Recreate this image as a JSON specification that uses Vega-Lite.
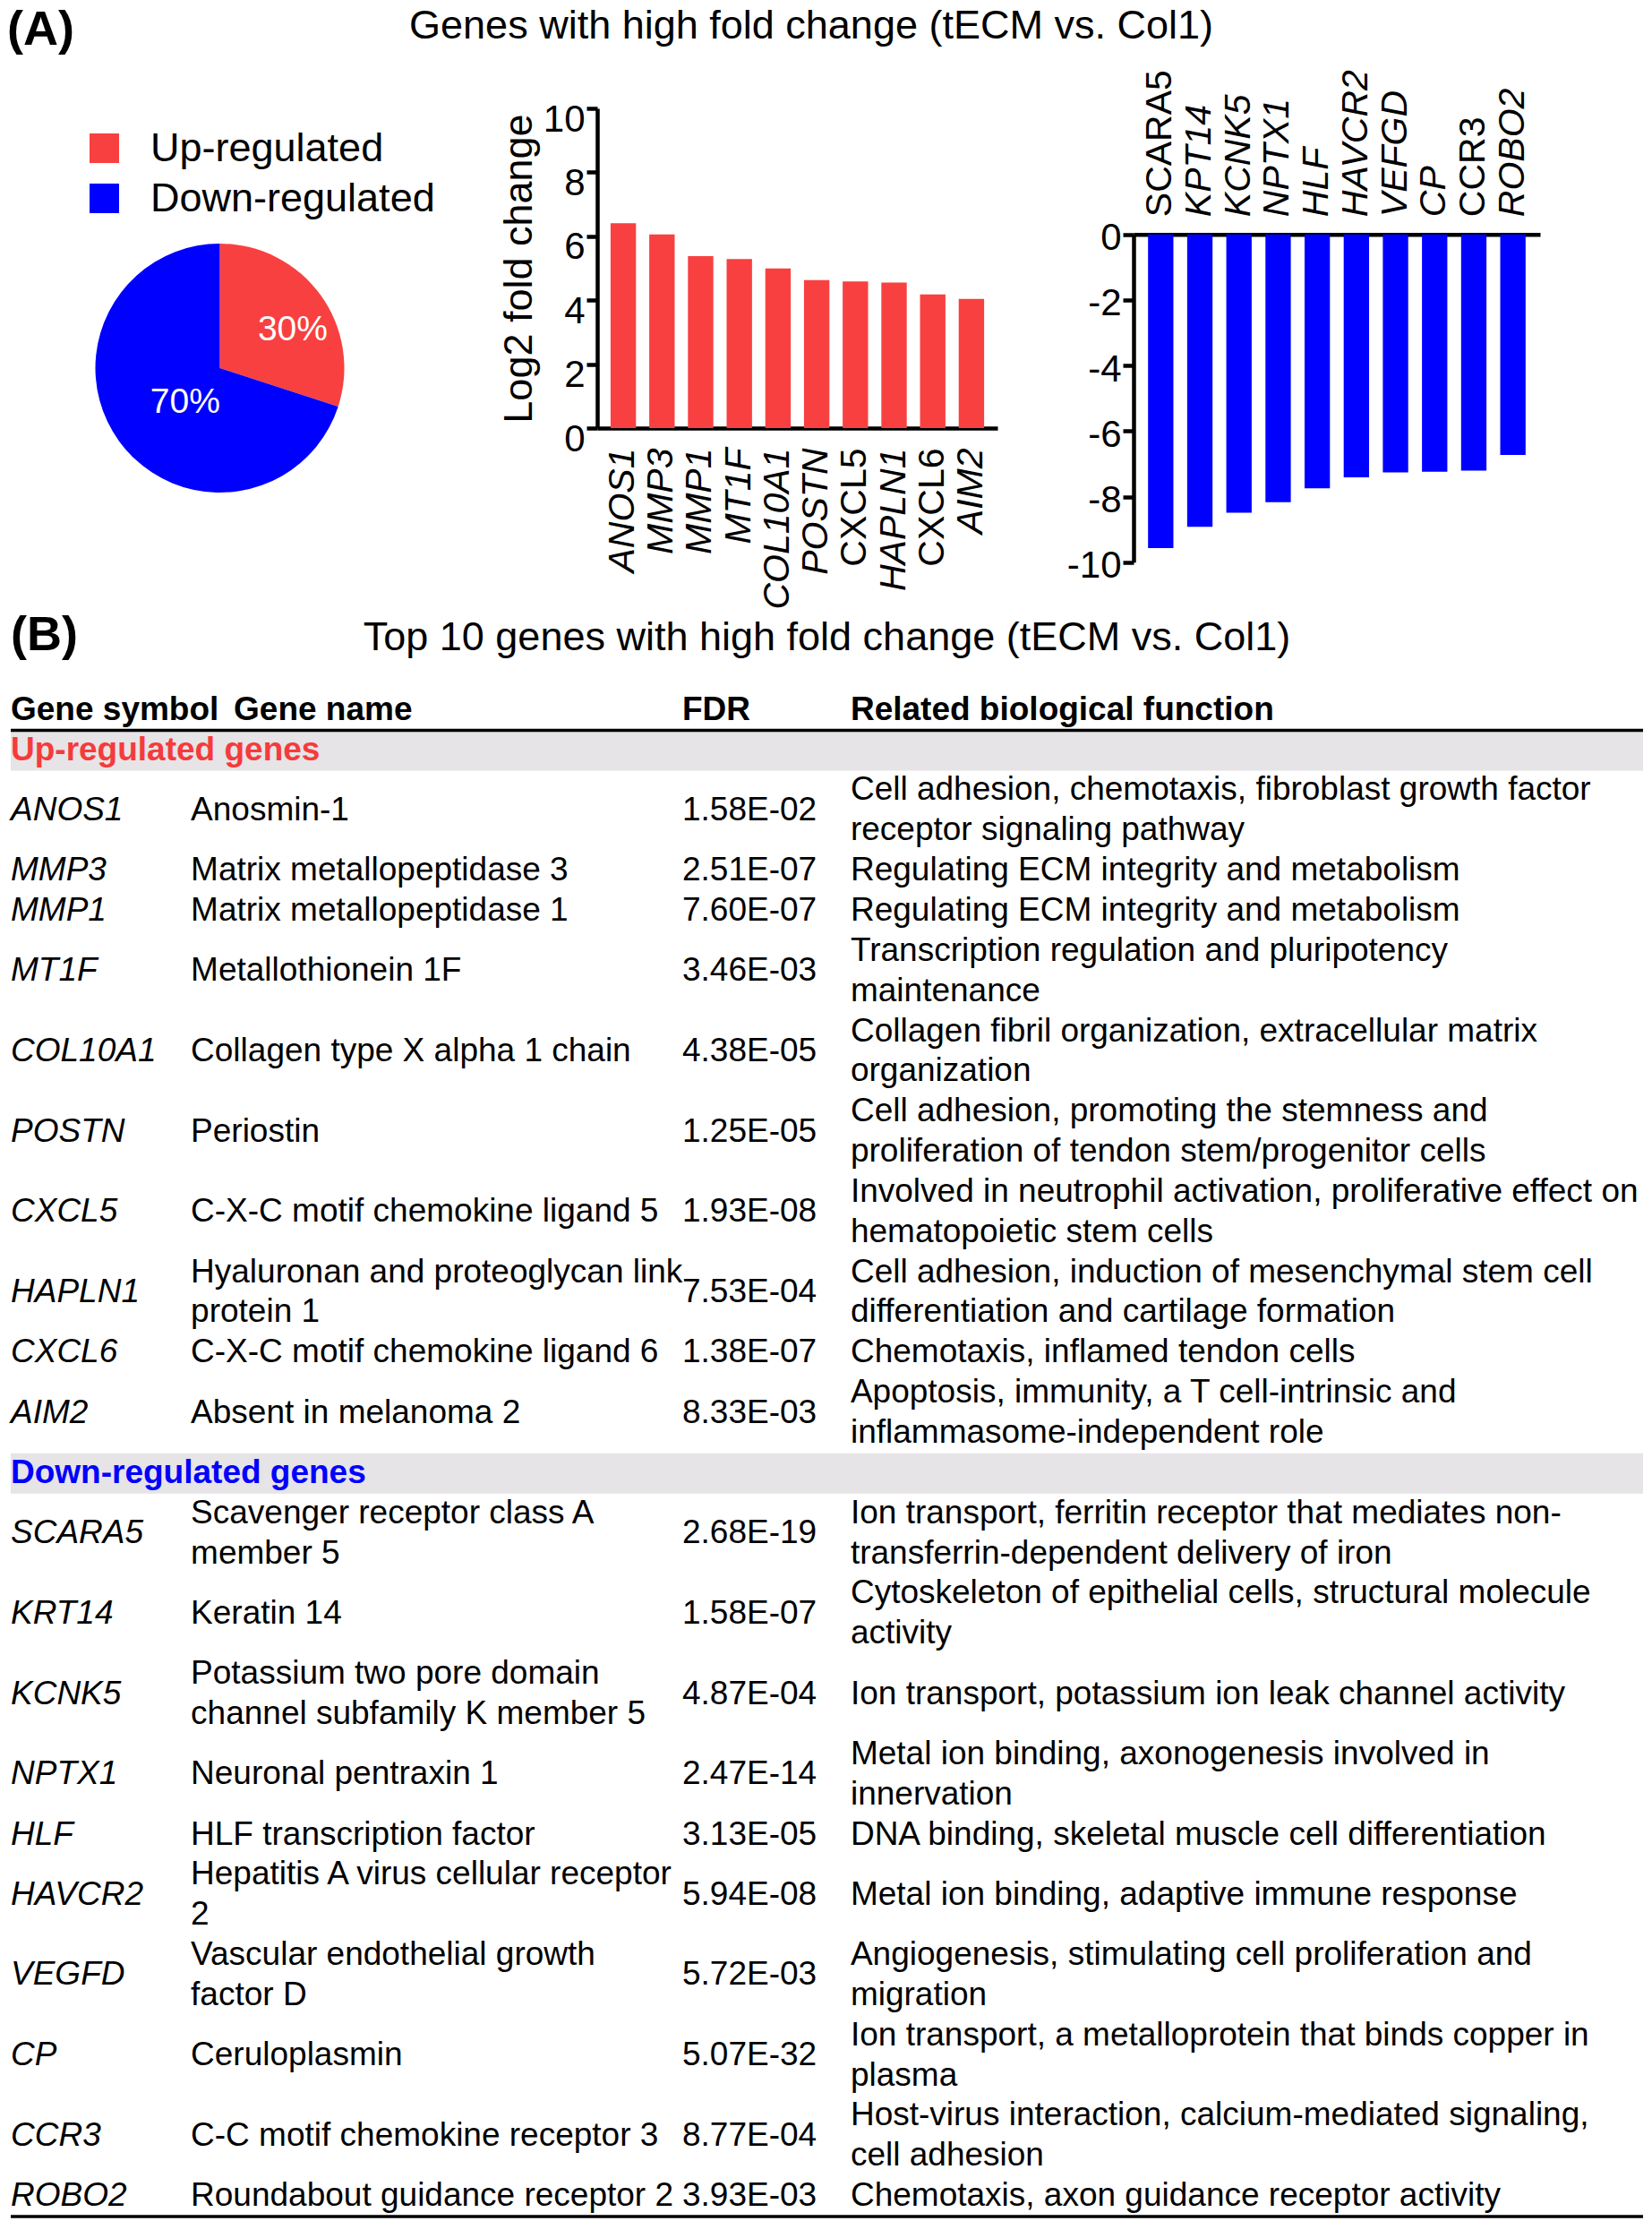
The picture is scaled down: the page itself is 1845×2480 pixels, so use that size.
{
  "$schema": "https://vega.github.io/schema/vega-lite/v6.json",
  "autosize": {"type": "pad"},
  "padding": {"left": 0, "top": 7, "right": 0, "bottom": 0},
  "background": "white",
  "config": {
    "font": "Liberation Sans",
    "view": {"stroke": null},
    "axis": {"grid": false, "domainColor": "black", "tickColor": "black", "labelColor": "black", "titleColor": "black", "labelFont": "Liberation Sans", "titleFont": "Liberation Sans"},
    "legend": {"labelFont": "Liberation Sans"},
    "title": {"font": "Liberation Sans", "color": "black"}
  },
  "spacing": 0,
  "vconcat": [
    {
      "spacing": 152,
      "bounds": "flush",
      "hconcat": [
        {
          "width": 491,
          "height": 559.3,
          "title": {"text": "(A)", "anchor": "start", "frame": "group", "fontSize": 54, "fontWeight": "bold", "baseline": "alphabetic", "offset": 17, "dx": 8},
          "data": {"values": [
            {"reg": "Up-regulated", "pct": 30, "label": "30%"},
            {"reg": "Down-regulated", "pct": 70, "label": "70%"}
          ]},
          "encoding": {
            "theta": {"field": "pct", "type": "quantitative", "stack": true},
            "order": {"field": "pct", "type": "quantitative", "sort": "ascending"}
          },
          "layer": [
            {
              "mark": {"type": "arc", "outerRadius": 139, "yOffset": 10.35},
              "encoding": {
                "color": {"field": "reg", "type": "nominal",
                  "scale": {"domain": ["Up-regulated", "Down-regulated"], "range": ["#f94040", "#0000fe"]},
                  "legend": {"orient": "none", "legendX": 94, "legendY": 22, "title": null, "symbolType": "square", "symbolSize": 1089, "symbolStrokeWidth": 0, "symbolOpacity": 1, "labelFontSize": 45, "labelColor": "black", "labelOffset": 29, "labelBaseline": "middle", "rowPadding": 10, "padding": 0, "labelLimit": 600}
                }
              }
            },
            {
              "mark": {"type": "text", "radius": 92, "yOffset": 10.35, "dx": 7, "dy": 11, "fontSize": 39, "color": "white"},
              "encoding": {"text": {"condition": {"test": "datum.reg == 'Up-regulated'", "field": "label"}, "value": ""}}
            },
            {
              "mark": {"type": "text", "radius": 54, "yOffset": 10.35, "dx": 5, "dy": 6, "fontSize": 39, "color": "white"},
              "encoding": {"text": {"condition": {"test": "datum.reg == 'Down-regulated'", "field": "label"}, "value": ""}}
            }
          ]
        },
        {
          "width": 471,
          "height": 357,
          "title": {"text": "Genes with high fold change (tECM vs. Col1)", "anchor": "middle", "frame": "group", "fontSize": 45, "fontWeight": "normal", "baseline": "alphabetic", "offset": 24, "dx": 27.5},
          "data": {"values": [
            {"gene": "ANOS1", "lfc": 6.41},
            {"gene": "MMP3", "lfc": 6.06},
            {"gene": "MMP1", "lfc": 5.38},
            {"gene": "MT1F", "lfc": 5.29},
            {"gene": "COL10A1", "lfc": 4.99},
            {"gene": "POSTN", "lfc": 4.63},
            {"gene": "CXCL5", "lfc": 4.59},
            {"gene": "HAPLN1", "lfc": 4.55},
            {"gene": "CXCL6", "lfc": 4.18},
            {"gene": "AIM2", "lfc": 4.04}
          ]},
          "mark": {"type": "bar", "color": "#f94040"},
          "encoding": {
            "x": {"field": "gene", "type": "nominal", "sort": null,
              "scale": {"range": [24, 471], "paddingInner": 0.343, "paddingOuter": 0.345},
              "axis": {"title": null, "orient": "bottom", "labelAngle": -90, "labelFontSize": 41,
                "labelFontStyle": {"condition": {"test": "indexof(['CXCL5','CXCL6'], datum.value) >= 0", "value": "normal"}, "value": "italic"},
                "ticks": false, "tickSize": 0, "labelPadding": 22, "domainWidth": 4.5, "labelLimit": 400}
            },
            "y": {"field": "lfc", "type": "quantitative",
              "scale": {"domain": [0, 10], "nice": false},
              "axis": {"title": "Log2 fold change", "titleFontSize": 45, "titleFontWeight": "normal", "titlePadding": 4, "offset": -24, "values": [0, 2, 4, 6, 8, 10], "tickSize": 12, "tickWidth": 4.5, "domainWidth": 4.5, "labelFontSize": 42, "labelPadding": 2, "labelOffset": 12}
            }
          }
        },
        {
          "width": 454,
          "height": 507,
          "data": {"values": [
            {"gene": "SCARA5", "lfc": -9.57},
            {"gene": "KPT14", "lfc": -8.92},
            {"gene": "KCNK5", "lfc": -8.49},
            {"gene": "NPTX1", "lfc": -8.17},
            {"gene": "HLF", "lfc": -7.75},
            {"gene": "HAVCR2", "lfc": -7.41},
            {"gene": "VEFGD", "lfc": -7.26},
            {"gene": "CP", "lfc": -7.24},
            {"gene": "CCR3", "lfc": -7.21},
            {"gene": "ROBO2", "lfc": -6.73}
          ]},
          "mark": {"type": "bar", "color": "#0000fe"},
          "encoding": {
            "x": {"field": "gene", "type": "nominal", "sort": null,
              "scale": {"paddingInner": 0.352, "paddingOuter": 0.37},
              "axis": {"title": null, "orient": "top", "offset": -140.7, "labelAngle": -90, "labelFontSize": 41,
                "labelFontStyle": {"condition": {"test": "indexof(['SCARA5','CCR3'], datum.value) >= 0", "value": "normal"}, "value": "italic"},
                "ticks": false, "tickSize": 0, "labelPadding": 20, "domainWidth": 4.5, "labelLimit": 400}
            },
            "y": {"field": "lfc", "type": "quantitative",
              "scale": {"domain": [-10, 0], "range": [506.7, 140.7], "nice": false, "zero": false},
              "axis": {"title": null, "values": [0, -2, -4, -6, -8, -10], "labelExpr": "toString(datum.value)", "tickSize": 12, "tickWidth": 4.5, "domainWidth": 4.5, "labelFontSize": 42, "labelPadding": 2, "labelOffset": 4}
            }
          }
        }
      ]
    },
    {
      "width": 1835,
      "height": 1794,
      "data": {"values": [
        {"kind": "title", "n": 2, "sym": "(B)", "name": "Top 10 genes with high fold change (tECM vs. Col1)"},
        {"kind": "header", "n": 1, "sym": "Gene symbol", "name": "Gene name", "fdr": "FDR", "func": "Related biological function"},
        {"kind": "section", "n": 1, "sym": "Up-regulated genes"},
        {"kind": "gene", "n": 2, "sym": "ANOS1", "name": "Anosmin-1", "fdr": "1.58E-02", "func": "Cell adhesion, chemotaxis, fibroblast growth factor\nreceptor signaling pathway"},
        {"kind": "gene", "n": 1, "sym": "MMP3", "name": "Matrix metallopeptidase 3", "fdr": "2.51E-07", "func": "Regulating ECM integrity and metabolism"},
        {"kind": "gene", "n": 1, "sym": "MMP1", "name": "Matrix metallopeptidase 1", "fdr": "7.60E-07", "func": "Regulating ECM integrity and metabolism"},
        {"kind": "gene", "n": 2, "sym": "MT1F", "name": "Metallothionein 1F", "fdr": "3.46E-03", "func": "Transcription regulation and pluripotency\nmaintenance"},
        {"kind": "gene", "n": 2, "sym": "COL10A1", "name": "Collagen type X alpha 1 chain", "fdr": "4.38E-05", "func": "Collagen fibril organization, extracellular matrix\norganization"},
        {"kind": "gene", "n": 2, "sym": "POSTN", "name": "Periostin", "fdr": "1.25E-05", "func": "Cell adhesion, promoting the stemness and\nproliferation of tendon stem/progenitor cells"},
        {"kind": "gene", "n": 2, "sym": "CXCL5", "name": "C-X-C motif chemokine ligand 5", "fdr": "1.93E-08", "func": "Involved in neutrophil activation, proliferative effect on\nhematopoietic stem cells"},
        {"kind": "gene", "n": 2, "sym": "HAPLN1", "name": "Hyaluronan and proteoglycan link\nprotein 1", "fdr": "7.53E-04", "func": "Cell adhesion, induction of mesenchymal stem cell\ndifferentiation and cartilage formation"},
        {"kind": "gene", "n": 1, "sym": "CXCL6", "name": "C-X-C motif chemokine ligand 6", "fdr": "1.38E-07", "func": "Chemotaxis, inflamed tendon cells"},
        {"kind": "gene", "n": 2, "sym": "AIM2", "name": "Absent in melanoma 2", "fdr": "8.33E-03", "func": "Apoptosis, immunity, a T cell-intrinsic and\ninflammasome-independent role"},
        {"kind": "section", "n": 1, "sym": "Down-regulated genes"},
        {"kind": "gene", "n": 2, "sym": "SCARA5", "name": "Scavenger receptor class A\nmember 5", "fdr": "2.68E-19", "func": "Ion transport, ferritin receptor that mediates non-\ntransferrin-dependent delivery of iron"},
        {"kind": "gene", "n": 2, "sym": "KRT14", "name": "Keratin 14", "fdr": "1.58E-07", "func": "Cytoskeleton of epithelial cells, structural molecule\nactivity"},
        {"kind": "gene", "n": 2, "sym": "KCNK5", "name": "Potassium two pore domain\nchannel subfamily K member 5", "fdr": "4.87E-04", "func": "Ion transport, potassium ion leak channel activity"},
        {"kind": "gene", "n": 2, "sym": "NPTX1", "name": "Neuronal pentraxin 1", "fdr": "2.47E-14", "func": "Metal ion binding, axonogenesis involved in\ninnervation"},
        {"kind": "gene", "n": 1, "sym": "HLF", "name": "HLF transcription factor", "fdr": "3.13E-05", "func": "DNA binding, skeletal muscle cell differentiation"},
        {"kind": "gene", "n": 2, "sym": "HAVCR2", "name": "Hepatitis A virus cellular receptor\n2", "fdr": "5.94E-08", "func": "Metal ion binding, adaptive immune response"},
        {"kind": "gene", "n": 2, "sym": "VEGFD", "name": "Vascular endothelial growth\nfactor D", "fdr": "5.72E-03", "func": "Angiogenesis, stimulating cell proliferation and\nmigration"},
        {"kind": "gene", "n": 2, "sym": "CP", "name": "Ceruloplasmin", "fdr": "5.07E-32", "func": "Ion transport, a metalloprotein that binds copper in\nplasma"},
        {"kind": "gene", "n": 2, "sym": "CCR3", "name": "C-C motif chemokine receptor 3", "fdr": "8.77E-04", "func": "Host-virus interaction, calcium-mediated signaling,\ncell adhesion"},
        {"kind": "gene", "n": 1, "sym": "ROBO2", "name": "Roundabout guidance receptor 2", "fdr": "3.93E-03", "func": "Chemotaxis, axon guidance receptor activity"}
      ]},
      "transform": [
        {"window": [{"op": "sum", "field": "n", "as": "end"}], "frame": [null, 0]},
        {"calculate": "datum.end - datum.n", "as": "start"},
        {"calculate": "datum.end - datum.n / 2", "as": "mid"},
        {"calculate": "datum.mid - 0.5", "as": "ys"},
        {"calculate": "indexof(datum.name || '', '\\n') >= 0 ? datum.start : datum.mid - 0.5", "as": "yn"},
        {"calculate": "indexof(datum.func || '', '\\n') >= 0 ? datum.start : datum.mid - 0.5", "as": "yf"}
      ],
      "layer": [
        {
          "transform": [{"filter": "datum.kind == 'section'"}],
          "mark": {"type": "rect", "color": "#e6e4e6"},
          "encoding": {
            "x": {"datum": 0, "type": "quantitative", "scale": {"domain": [0, 100], "range": [12, 1835]}, "axis": null},
            "x2": {"datum": 100},
            "y": {"field": "start", "type": "quantitative", "scale": {"domain": [0, 40], "reverse": true, "nice": false, "zero": false}, "axis": null},
            "y2": {"field": "end"}
          }
        },
        {
          "transform": [{"filter": "datum.kind == 'header' || datum.sym == 'ROBO2'"}],
          "mark": {"type": "rule", "color": "black", "strokeWidth": 3.5},
          "encoding": {
            "x": {"datum": 0, "type": "quantitative", "scale": {"domain": [0, 100], "range": [12, 1835]}, "axis": null},
            "x2": {"datum": 100},
            "y": {"field": "end", "type": "quantitative", "scale": {"domain": [0, 40], "reverse": true, "nice": false, "zero": false}, "axis": null}
          }
        },
        {
          "transform": [{"filter": "datum.kind == 'title'"}],
          "mark": {"type": "text", "align": "left", "baseline": "alphabetic", "fontSize": 54, "fontWeight": "bold", "color": "black"},
          "encoding": {
            "x": {"datum": 0, "type": "quantitative", "scale": {"domain": [0, 100], "range": [12, 1835]}, "axis": null},
            "y": {"field": "mid", "type": "quantitative", "scale": {"domain": [0, 40], "reverse": true, "nice": false, "zero": false}, "axis": null},
            "text": {"field": "sym"}
          }
        },
        {
          "transform": [{"filter": "datum.kind == 'title'"}],
          "mark": {"type": "text", "align": "center", "baseline": "alphabetic", "fontSize": 45, "color": "black"},
          "encoding": {
            "x": {"datum": 50, "type": "quantitative", "scale": {"domain": [0, 100], "range": [12, 1835]}, "axis": null},
            "y": {"field": "mid", "type": "quantitative", "scale": {"domain": [0, 40], "reverse": true, "nice": false, "zero": false}, "axis": null},
            "text": {"field": "name"}
          }
        },
        {
          "transform": [{"filter": "datum.kind == 'header'"}],
          "mark": {"type": "text", "align": "left", "baseline": "line-top", "lineHeight": 44.85, "fontSize": 37, "fontWeight": "bold", "color": "black"},
          "encoding": {
            "x": {"datum": 0, "type": "quantitative", "scale": {"domain": [0, 100], "range": [12, 1835]}, "axis": null},
            "y": {"field": "ys", "type": "quantitative", "scale": {"domain": [0, 40], "reverse": true, "nice": false, "zero": false}, "axis": null},
            "text": {"field": "sym"}
          }
        },
        {
          "transform": [{"filter": "datum.kind == 'header'"}],
          "mark": {"type": "text", "align": "left", "baseline": "line-top", "lineHeight": 44.85, "fontSize": 37, "fontWeight": "bold", "color": "black"},
          "encoding": {
            "x": {"datum": 13.66, "type": "quantitative", "scale": {"domain": [0, 100], "range": [12, 1835]}, "axis": null},
            "y": {"field": "ys", "type": "quantitative", "scale": {"domain": [0, 40], "reverse": true, "nice": false, "zero": false}, "axis": null},
            "text": {"field": "name"}
          }
        },
        {
          "transform": [{"filter": "datum.kind == 'header'"}],
          "mark": {"type": "text", "align": "left", "baseline": "line-top", "lineHeight": 44.85, "fontSize": 37, "fontWeight": "bold", "color": "black"},
          "encoding": {
            "x": {"datum": 41.14, "type": "quantitative", "scale": {"domain": [0, 100], "range": [12, 1835]}, "axis": null},
            "y": {"field": "ys", "type": "quantitative", "scale": {"domain": [0, 40], "reverse": true, "nice": false, "zero": false}, "axis": null},
            "text": {"field": "fdr"}
          }
        },
        {
          "transform": [{"filter": "datum.kind == 'header'"}],
          "mark": {"type": "text", "align": "left", "baseline": "line-top", "lineHeight": 44.85, "fontSize": 37, "fontWeight": "bold", "color": "black"},
          "encoding": {
            "x": {"datum": 51.45, "type": "quantitative", "scale": {"domain": [0, 100], "range": [12, 1835]}, "axis": null},
            "y": {"field": "ys", "type": "quantitative", "scale": {"domain": [0, 40], "reverse": true, "nice": false, "zero": false}, "axis": null},
            "text": {"field": "func"}
          }
        },
        {
          "transform": [{"filter": "datum.kind == 'section'"}],
          "mark": {"type": "text", "align": "left", "baseline": "line-top", "lineHeight": 44.85, "fontSize": 37, "fontWeight": "bold"},
          "encoding": {
            "x": {"datum": 0, "type": "quantitative", "scale": {"domain": [0, 100], "range": [12, 1835]}, "axis": null},
            "y": {"field": "ys", "type": "quantitative", "scale": {"domain": [0, 40], "reverse": true, "nice": false, "zero": false}, "axis": null},
            "text": {"field": "sym"},
            "color": {"condition": {"test": "datum.sym == 'Up-regulated genes'", "value": "#f53b3b"}, "value": "#0000fe"}
          }
        },
        {
          "transform": [{"filter": "datum.kind == 'gene'"}],
          "mark": {"type": "text", "align": "left", "baseline": "line-top", "lineHeight": 44.85, "fontSize": 37, "fontStyle": "italic", "color": "black"},
          "encoding": {
            "x": {"datum": 0, "type": "quantitative", "scale": {"domain": [0, 100], "range": [12, 1835]}, "axis": null},
            "y": {"field": "ys", "type": "quantitative", "scale": {"domain": [0, 40], "reverse": true, "nice": false, "zero": false}, "axis": null},
            "text": {"field": "sym"}
          }
        },
        {
          "transform": [{"filter": "datum.kind == 'gene'"}],
          "mark": {"type": "text", "align": "left", "baseline": "line-top", "lineHeight": 44.85, "lineBreak": "\n", "fontSize": 37, "color": "black"},
          "encoding": {
            "x": {"datum": 11.03, "type": "quantitative", "scale": {"domain": [0, 100], "range": [12, 1835]}, "axis": null},
            "y": {"field": "yn", "type": "quantitative", "scale": {"domain": [0, 40], "reverse": true, "nice": false, "zero": false}, "axis": null},
            "text": {"field": "name"}
          }
        },
        {
          "transform": [{"filter": "datum.kind == 'gene'"}],
          "mark": {"type": "text", "align": "left", "baseline": "line-top", "lineHeight": 44.85, "fontSize": 37, "color": "black"},
          "encoding": {
            "x": {"datum": 41.14, "type": "quantitative", "scale": {"domain": [0, 100], "range": [12, 1835]}, "axis": null},
            "y": {"field": "ys", "type": "quantitative", "scale": {"domain": [0, 40], "reverse": true, "nice": false, "zero": false}, "axis": null},
            "text": {"field": "fdr"}
          }
        },
        {
          "transform": [{"filter": "datum.kind == 'gene'"}],
          "mark": {"type": "text", "align": "left", "baseline": "line-top", "lineHeight": 44.85, "lineBreak": "\n", "fontSize": 37, "color": "black"},
          "encoding": {
            "x": {"datum": 51.45, "type": "quantitative", "scale": {"domain": [0, 100], "range": [12, 1835]}, "axis": null},
            "y": {"field": "yf", "type": "quantitative", "scale": {"domain": [0, 40], "reverse": true, "nice": false, "zero": false}, "axis": null},
            "text": {"field": "func"}
          }
        }
      ]
    }
  ]
}
